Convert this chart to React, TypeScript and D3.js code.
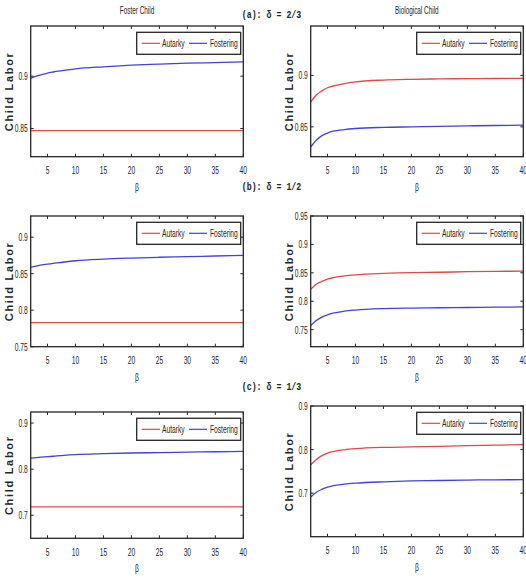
import React from 'react';
import * as d3 from 'd3';

// beta grid shared by every curve
const beta = [2, 3, 4, 5, 6, 8, 10, 15, 20, 25, 30, 35, 40];
const xTicks = [5, 10, 15, 20, 25, 30, 35, 40];

// (a) delta = 2/3
const fosterAutarkyA = [0.848, 0.848, 0.848, 0.848, 0.848, 0.848, 0.848, 0.848, 0.848, 0.848, 0.848, 0.848, 0.848];
const fosterFosteringA = [0.898, 0.9, 0.9015, 0.903, 0.904, 0.9055, 0.907, 0.909, 0.9105, 0.9115, 0.9124, 0.913, 0.9137];
const bioAutarkyA = [0.874, 0.881, 0.885, 0.888, 0.8897, 0.892, 0.8937, 0.8955, 0.8962, 0.8966, 0.8968, 0.897, 0.8972];
const bioFosteringA = [0.8305, 0.837, 0.8415, 0.844, 0.8458, 0.8474, 0.8484, 0.8495, 0.85, 0.8505, 0.851, 0.8513, 0.8516];

// (b) delta = 1/2
const fosterAutarkyB = [0.783, 0.783, 0.783, 0.783, 0.783, 0.783, 0.783, 0.783, 0.783, 0.783, 0.783, 0.783, 0.783];
const fosterFosteringB = [0.859, 0.8605, 0.862, 0.863, 0.864, 0.866, 0.8677, 0.87, 0.8714, 0.8725, 0.8733, 0.8742, 0.875];
const bioAutarkyB = [0.821, 0.83, 0.835, 0.839, 0.8415, 0.8445, 0.8465, 0.849, 0.8505, 0.851, 0.852, 0.8525, 0.853];
const bioFosteringB = [0.757, 0.766, 0.772, 0.776, 0.779, 0.7825, 0.7845, 0.787, 0.788, 0.7885, 0.789, 0.7895, 0.79];

// (c) delta = 1/3
const fosterAutarkyC = [0.718, 0.718, 0.718, 0.718, 0.718, 0.718, 0.718, 0.718, 0.718, 0.718, 0.718, 0.718, 0.718];
const fosterFosteringC = [0.8238, 0.825, 0.826, 0.827, 0.828, 0.83, 0.8315, 0.8335, 0.835, 0.836, 0.837, 0.8378, 0.8385];
const bioAutarkyC = [0.765, 0.777, 0.786, 0.792, 0.7955, 0.7995, 0.802, 0.805, 0.806, 0.8075, 0.809, 0.81, 0.8114];
const bioFosteringC = [0.691, 0.702, 0.709, 0.714, 0.717, 0.7205, 0.7228, 0.726, 0.728, 0.729, 0.73, 0.7305, 0.731];

const yTicksA = [0.85, 0.9];
const yTicksBLeft = [0.75, 0.8, 0.85, 0.9];
const yTicksBRight = [0.75, 0.8, 0.85, 0.9, 0.95];
const yTicksC = [0.7, 0.8, 0.9];

const rowHeaders = ['(a): \u03b4 = 2/3', '(b): \u03b4 = 1/2', '(c): \u03b4 = 1/3'];
const columnTitles = ['Foster Child', 'Biological Child'];
const seriesNames = ['Autarky', 'Fostering'];

const RED = '#e24848';
const BLUE = '#4242d8';
const INK = '#262626';
const NARROW = 0.58;

type Panel = {
  x: number; y: number; w: number; h: number;
  domain: [number, number];
  ticks: number[];
  autarky: number[];
  fostering: number[];
};

const panels: Panel[] = [
  { x: 30.7, y: 26, w: 212.6, h: 130.7, domain: [0.823, 0.948], ticks: yTicksA, autarky: fosterAutarkyA, fostering: fosterFosteringA },
  { x: 310.7, y: 26, w: 212.6, h: 130.7, domain: [0.821, 0.948], ticks: yTicksA, autarky: bioAutarkyA, fostering: bioFosteringA },
  { x: 30.7, y: 216, w: 212.6, h: 130.7, domain: [0.75, 0.929], ticks: yTicksBLeft, autarky: fosterAutarkyB, fostering: fosterFosteringB },
  { x: 310.7, y: 216, w: 212.6, h: 130.7, domain: [0.72, 0.95], ticks: yTicksBRight, autarky: bioAutarkyB, fostering: bioFosteringB },
  { x: 30.7, y: 412, w: 212.6, h: 126.3, domain: [0.65, 0.924], ticks: yTicksC, autarky: fosterAutarkyC, fostering: fosterFosteringC },
  { x: 310.7, y: 406, w: 212.6, h: 130.7, domain: [0.6, 0.9], ticks: yTicksC, autarky: bioAutarkyC, fostering: bioFosteringC },
];

// condensed label, squeezed horizontally like the exported figure fonts
const Narrow = ({ x, y, children, anchor = 'middle', size = 11.5 }: any) => (
  <text
    transform={`translate(${x},${y}) scale(${NARROW},1)`}
    textAnchor={anchor}
    fontFamily="Liberation Sans, Arial, sans-serif"
    fontSize={size}
    fill={INK}
  >
    {children}
  </text>
);

const PanelView = ({ p }: { p: Panel }) => {
  const x = d3.scaleLinear().domain([2, 40]).range([p.x, p.x + p.w]);
  const y = d3.scaleLinear().domain(p.domain).range([p.y + p.h, p.y]);
  const line = (vals: number[]) =>
    d3.line<number>()
      .x((_, i) => x(beta[i]))
      .y(d => y(d))
      .curve(d3.curveMonotoneX)(vals) as string;

  const top = p.y, bottom = p.y + p.h, left = p.x, right = p.x + p.w;
  const tl = 3;
  const lx = right - 106.6, ly = top + 6.3, lw = 104, lh = 22;
  const cy = ly + lh / 2;

  return (
    <g>
      <defs>
        <clipPath id={`clip-${p.x}-${p.y}`}>
          <rect x={left} y={top} width={p.w} height={p.h} />
        </clipPath>
      </defs>
      <g clipPath={`url(#clip-${p.x}-${p.y})`}>
        <path d={line(p.autarky)} fill="none" stroke={RED} strokeWidth={1.3} />
        <path d={line(p.fostering)} fill="none" stroke={BLUE} strokeWidth={1.3} />
      </g>

      {xTicks.map(t => (
        <g key={`x${t}`}>
          <line x1={x(t)} x2={x(t)} y1={bottom} y2={bottom - tl} stroke={INK} />
          <line x1={x(t)} x2={x(t)} y1={top} y2={top + tl} stroke={INK} />
          <Narrow x={x(t)} y={bottom + 17.5}>{t}</Narrow>
        </g>
      ))}
      {p.ticks.map(t => (
        <g key={`y${t}`}>
          <line x1={left} x2={left + tl} y1={y(t)} y2={y(t)} stroke={INK} />
          <line x1={right} x2={right - tl} y1={y(t)} y2={y(t)} stroke={INK} />
          <Narrow x={left - 3} y={y(t) + 4} anchor="end">{String(t)}</Narrow>
        </g>
      ))}
      <rect x={left} y={top} width={p.w} height={p.h} fill="none" stroke={INK} strokeWidth={1.3} />

      <Narrow x={(left + right) / 2} y={bottom + 34}>{'\u03b2'}</Narrow>
      <text
        transform={`translate(${left - 18},${(top + bottom) / 2}) rotate(-90)`}
        textAnchor="middle"
        fontFamily="Liberation Sans, Arial, sans-serif"
        fontSize={11}
        fontWeight={600}
        letterSpacing={1.7}
        fill={INK}
      >
        Child Labor
      </text>

      <rect x={lx} y={ly} width={lw} height={lh} fill="#fff" stroke={INK} strokeWidth={1.3} />
      <line x1={lx + 5} x2={lx + 23.3} y1={cy} y2={cy} stroke={RED} strokeWidth={1.2} />
      <Narrow x={lx + 25.3} y={cy + 4} anchor="start">{seriesNames[0]}</Narrow>
      <line x1={lx + 52.3} x2={lx + 70.3} y1={cy} y2={cy} stroke={BLUE} strokeWidth={1.2} />
      <Narrow x={lx + 73.3} y={cy + 4} anchor="start">{seriesNames[1]}</Narrow>
    </g>
  );
};

export default function App() {
  const headerY = [18, 190, 390];
  return (
    <svg
      width={526}
      height={578}
      style={{ position: 'absolute', left: 0, top: 0, background: '#fff' }}
    >
      <Narrow x={137} y={14} size={11}>{columnTitles[0]}</Narrow>
      <Narrow x={416.8} y={14} size={11}>{columnTitles[1]}</Narrow>
      {rowHeaders.map((h, i) => (
        <text
          key={h}
          transform={`translate(271.5,${headerY[i]}) scale(0.72,1)`}
          textAnchor="middle"
          fontFamily="Liberation Mono, Courier New, monospace"
          fontWeight="bold"
          fontSize={11.5}
          fill={INK}
        >
          {h}
        </text>
      ))}
      {panels.map((p, i) => <PanelView key={i} p={p} />)}
    </svg>
  );
}
